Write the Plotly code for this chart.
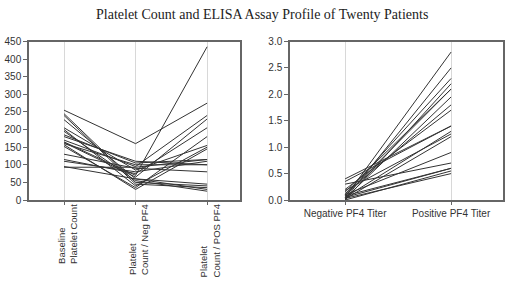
import plotly.graph_objects as go

title = "Platelet Count and ELISA Assay Profile of Twenty Patients"

left_categories = ["Baseline<br>Platelet Count", "Platelet<br>Count / Neg PF4", "Platelet<br>Count / POS PF4"]
baseline = [255, 245, 240, 228, 205, 200, 195, 185, 170, 165, 163, 160, 157, 152, 130, 115, 110, 95, 93, 180]
count_neg = [160, 50, 45, 60, 85, 40, 55, 105, 95, 70, 65, 100, 30, 35, 90, 75, 80, 60, 93, 110]
count_pos = [275, 40, 35, 45, 155, 150, 25, 115, 240, 435, 230, 100, 145, 180, 80, 205, 110, 30, 115, 100]

right_categories = ["Negative PF4 Titer", "Positive PF4 Titer"]
titer_neg = [0.05, 0.02, 0.10, 0.0, 0.15, 0.08, 0.03, 0.12, 0.20, 0.40, 0.35, 0.05, 0.18, 0.02, 0.10, 0.30, 0.08, 0.05, 0.0, 0.03]
titer_pos = [2.8, 2.5, 2.3, 2.2, 2.1, 2.1, 1.95, 1.8, 1.7, 1.4, 1.4, 1.3, 1.25, 1.2, 0.9, 0.7, 0.6, 0.6, 0.55, 0.5]

W, H = 520, 287

def px_x(p):
    return p / W

def px_y(p):
    return 1 - p / H

line_color = "#333333"
fig = go.Figure()
for b, n, p in zip(baseline, count_neg, count_pos):
    fig.add_trace(go.Scatter(x=[0, 1, 2], y=[b, n, p], mode="lines",
                             line=dict(color=line_color, width=1),
                             xaxis="x", yaxis="y", showlegend=False, hoverinfo="skip"))
for n, p in zip(titer_neg, titer_pos):
    fig.add_trace(go.Scatter(x=[0, 1], y=[n, p], mode="lines",
                             line=dict(color=line_color, width=1),
                             xaxis="x2", yaxis="y2", showlegend=False, hoverinfo="skip"))

ydom = [px_y(200), px_y(41.5)]
tickfont = dict(family="Liberation Sans, Arial, sans-serif", size=10, color="#333333")
common_x = dict(showgrid=True, gridcolor="#d8d8d8", gridwidth=1, zeroline=False,
                showline=True, linecolor="#666666", linewidth=1.5, mirror=True,
                ticks="outside", ticklen=3, tickcolor="#666666", automargin=False, fixedrange=True)
common_y = dict(showgrid=False, zeroline=False, showline=True, linecolor="#666666", linewidth=1.5,
                mirror=True, ticks="outside", ticklen=4, tickcolor="#666666",
                tickfont=tickfont, automargin=False, fixedrange=True)

annotations = []
for i, cat in enumerate(left_categories):
    annotations.append(dict(x=i + 0.04, y=px_y(202), xref="x", yref="paper", text=cat,
                            textangle=-90, align="left", xanchor="center", yanchor="top",
                            showarrow=False,
                            font=dict(family="Liberation Sans, Arial, sans-serif", size=9.5, color="#333333")))
annotations.append(dict(x=px_x(262), y=px_y(14), xref="paper", yref="paper", text=title,
                        showarrow=False, xanchor="center", yanchor="middle",
                        font=dict(family="Liberation Serif, Times New Roman, serif", size=14, color="#222222")))

fig.update_layout(
    width=W, height=H,
    margin=dict(l=0, r=0, t=0, b=0),
    paper_bgcolor="white", plot_bgcolor="white",
    xaxis=dict(domain=[px_x(29), px_x(240)], range=[-0.49, 2.46], tickvals=[0, 1, 2],
               ticktext=["", "", ""], **common_x),
    yaxis=dict(domain=ydom, range=[0, 450], tickvals=list(range(0, 451, 50)), **common_y),
    xaxis2=dict(domain=[px_x(290), px_x(503)], range=[-0.52, 1.49], tickvals=[0, 1],
                ticktext=right_categories, tickfont=tickfont,
                anchor="y2", **common_x),
    yaxis2=dict(domain=ydom, range=[0, 3.0], tickvals=[0, 0.5, 1, 1.5, 2, 2.5, 3],
                tickformat=".1f", anchor="x2", **common_y),
    annotations=annotations,
)

fig.write_html("out.html", config={"displayModeBar": False},
               post_script="document.body.style.margin='0px';")
